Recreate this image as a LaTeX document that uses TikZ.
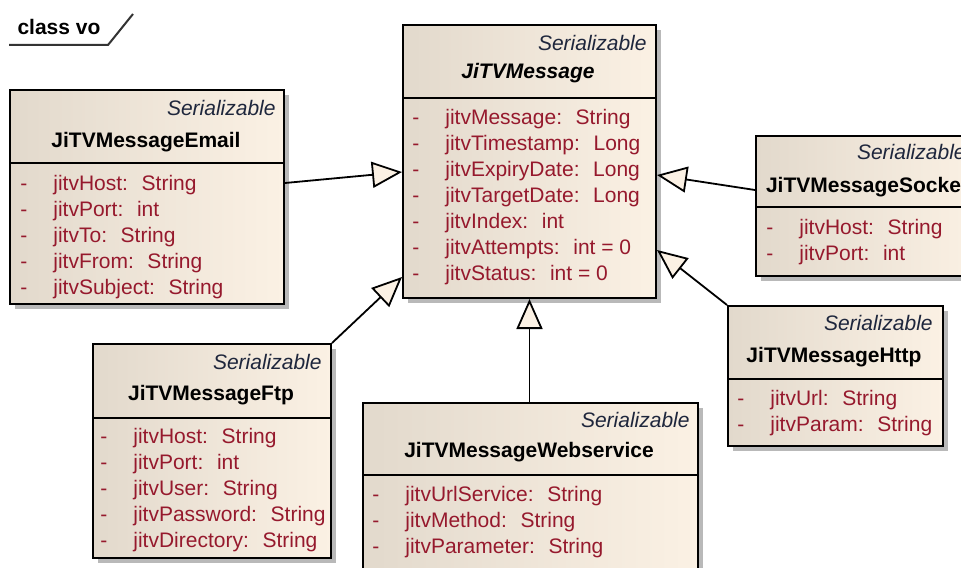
\documentclass[tikz,border=0pt]{standalone}
\usepackage{fontspec}
\setmainfont{Liberation Sans}
\usetikzlibrary{arrows.meta,shadows}

\definecolor{boxleft}{RGB}{226,217,204}
\definecolor{boxright}{RGB}{251,241,228}
\definecolor{shadowgray}{RGB}{185,185,185}
\definecolor{attrred}{RGB}{150,25,45}
\definecolor{stereoblue}{RGB}{30,38,60}
\definecolor{tipfill}{RGB}{251,241,228}

\tikzset{
  classbox/.style={draw=black, line width=1pt, left color=boxleft, right color=boxright,
    anchor=north west, inner sep=0pt,
    drop shadow={shadow xshift=2.5pt, shadow yshift=-2.5pt, fill=shadowgray, opacity=1}},
  divline/.style={line width=1pt},
  stereo/.style={anchor=east, inner sep=0pt, font=\fontsize{10.5}{13}\selectfont\itshape, text=stereoblue},
  cname/.style={inner sep=0pt, font=\fontsize{10.5}{13}\selectfont\bfseries},
  attr/.style={anchor=west, inner sep=0pt, font=\fontsize{10.5}{13}\selectfont, text=attrred},
  gen/.style={line width=0.9pt, -{Triangle[length=15pt,width=13pt,fill=tipfill]}},
  frameline/.style={line width=1pt, draw=black!80}
}
\newcommand{\att}[2]{\makebox[16.5pt][l]{-}#1:~ #2}

\begin{document}
\begin{tikzpicture}[x=0.5pt,y=-0.5pt]
\useasboundingbox[fill=white] (0,0) rectangle (961,567);

% frame
\node[cname] (frame) at (59,27) {class vo};
\draw[frameline] (9,45) -- (108,45) -- (133,14);

% JiTVMessage
\node[classbox, minimum width=126.5pt, minimum height=136.5pt] (msg) at (402,24) {};
\draw[divline] (msg.west |- 0,98) -- (msg.east |- 0,98);
\node[stereo] (msg-st) at (647,43) {Serializable};
\node[cname] (msg-nm) at (528,73) {\textit{JiTVMessage}};
\node[attr] (msg-a1) at (412,119) {\att{jitvMessage}{String}};
\node[attr] (msg-a2) at (412,145) {\att{jitvTimestamp}{Long}};
\node[attr] (msg-a3) at (412,171) {\att{jitvExpiryDate}{Long}};
\node[attr] (msg-a4) at (412,197) {\att{jitvTargetDate}{Long}};
\node[attr] (msg-a5) at (412,223) {\att{jitvIndex}{int}};
\node[attr] (msg-a6) at (412,249) {\att{jitvAttempts}{int = 0}};
\node[attr] (msg-a7) at (412,275) {\att{jitvStatus}{int = 0}};

% JiTVMessageEmail
\node[classbox, minimum width=137pt, minimum height=107pt] (email) at (9,89) {};
\draw[divline] (email.west |- 0,163) -- (email.east |- 0,163);
\node[stereo] (email-st) at (276,108) {Serializable};
\node[cname] (email-nm) at (146,142) {JiTVMessageEmail};
\node[attr] (email-a1) at (20,185) {\att{jitvHost}{String}};
\node[attr] (email-a2) at (20,211) {\att{jitvPort}{int}};
\node[attr] (email-a3) at (20,237) {\att{jitvTo}{String}};
\node[attr] (email-a4) at (20,263) {\att{jitvFrom}{String}};
\node[attr] (email-a5) at (20,289) {\att{jitvSubject}{String}};

% JiTVMessageSocket
\node[classbox, minimum width=112.5pt, minimum height=70pt] (sock) at (755,135) {};
\draw[divline] (sock.west |- 0,207) -- (sock.east |- 0,207);
\node[stereo] (sock-st) at (966,152) {Serializable};
\node[cname] (sock-nm) at (867,187) {JiTVMessageSocket};
\node[attr] (sock-a1) at (766,229) {\att{jitvHost}{String}};
\node[attr] (sock-a2) at (766,255) {\att{jitvPort}{int}};

% JiTVMessageHttp
\node[classbox, minimum width=107.5pt, minimum height=70pt] (http) at (727,305) {};
\draw[divline] (http.west |- 0,379) -- (http.east |- 0,379);
\node[stereo] (http-st) at (933,323) {Serializable};
\node[cname] (http-nm) at (834,357) {JiTVMessageHttp};
\node[attr] (http-a1) at (737,400) {\att{jitvUrl}{String}};
\node[attr] (http-a2) at (737,426) {\att{jitvParam}{String}};

% JiTVMessageFtp
\node[classbox, minimum width=119pt, minimum height=107pt] (ftp) at (92,343) {};
\draw[divline] (ftp.west |- 0,418) -- (ftp.east |- 0,418);
\node[stereo] (ftp-st) at (322,362) {Serializable};
\node[cname] (ftp-nm) at (211,395) {JiTVMessageFtp};
\node[attr] (ftp-a1) at (100,438) {\att{jitvHost}{String}};
\node[attr] (ftp-a2) at (100,464) {\att{jitvPort}{int}};
\node[attr] (ftp-a3) at (100,490) {\att{jitvUser}{String}};
\node[attr] (ftp-a4) at (100,516) {\att{jitvPassword}{String}};
\node[attr] (ftp-a5) at (100,542) {\att{jitvDirectory}{String}};

% JiTVMessageWebservice
\node[classbox, minimum width=167.5pt, minimum height=90pt] (web) at (362,402) {};
\draw[divline] (web.west |- 0,475) -- (web.east |- 0,475);
\node[stereo] (web-st) at (690,420) {Serializable};
\node[cname] (web-nm) at (529,452) {JiTVMessageWebservice};
\node[attr] (web-a1) at (372,496) {\att{jitvUrlService}{String}};
\node[attr] (web-a2) at (372,522) {\att{jitvMethod}{String}};
\node[attr] (web-a3) at (372,548) {\att{jitvParameter}{String}};

% generalizations
\draw[gen] (email.east |- 0,183) -- (msg.west |- 0,172);
\draw[gen] (sock.west |- 0,190) -- (msg.east |- 0,175);
\draw[gen] (ftp.north east) -- (msg.west |- 0,277);
\draw[gen] (http.north west) -- (msg.east |- 0,250);
\draw[gen] (web.north -| msg.south) -- (msg.south);

\end{tikzpicture}
\end{document}
